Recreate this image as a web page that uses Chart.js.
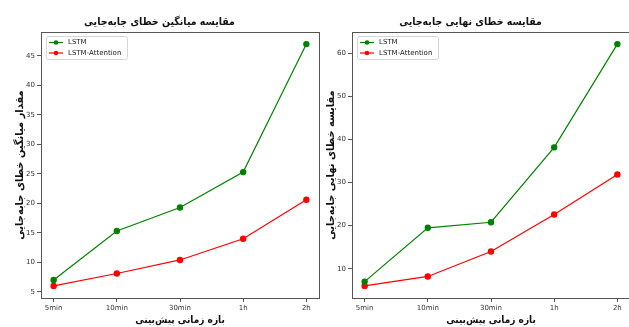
<!DOCTYPE html>
<html>
<head>
<meta charset="utf-8">
<script src="https://cdn.jsdelivr.net/npm/chart.js@4.4.1/dist/chart.umd.min.js"></script>
<style>
  html, body { margin: 0; padding: 0; background: #fff; overflow: hidden; width: 629px; height: 327px; }
  .panel { position: absolute; top: 0; width: 330px; height: 345px; }
  #leftPanel { left: 0; }
  #rightPanel { left: 311px; }
</style>
</head>
<body>
<div class="panel" id="leftPanel"><canvas id="meanChart"></canvas></div>
<div class="panel" id="rightPanel"><canvas id="finalChart"></canvas></div>
<script>
// Forecast horizons on the x axis
const horizons = ['5min', '10min', '30min', '1h', '2h'];

// Mean displacement error
const meanLstm = [7.0, 15.3, 19.3, 25.3, 47.0];
const meanLstmAttention = [6.0, 8.1, 10.4, 14.0, 20.6];
const meanTicks = [5, 10, 15, 20, 25, 30, 35, 40, 45];

// Final displacement error
const finalLstm = [7.0, 19.5, 20.8, 38.2, 62.2];
const finalLstmAttention = [6.0, 8.2, 14.0, 22.6, 31.9];
const finalTicks = [10, 20, 30, 40, 50, 60];

const seriesNames = ['LSTM', 'LSTM-Attention'];
const seriesColors = ['#008000', '#ff0000'];

const persianFont = "'DejaVu Sans Condensed', 'DejaVu Sans', sans-serif";
const tickFont = { family: "'DejaVu Sans', sans-serif", size: 7 };
const axisColor = '#555';

// Axis limits padded by 5% of the data span on each side
function paddedRange(values) {
  const lo = Math.min(...values), hi = Math.max(...values);
  const m = (hi - lo) * 0.05;
  return [lo - m, hi + m];
}

function points(values) {
  return values.map((v, i) => ({ x: i, y: v }));
}

// Frame around the plotting area
const frame = {
  id: 'frame',
  afterDatasetsDraw(chart) {
    const a = chart.chartArea, ctx = chart.ctx;
    ctx.save();
    ctx.strokeStyle = axisColor;
    ctx.lineWidth = 1;
    ctx.strokeRect(Math.round(a.left) + 0.5, Math.round(a.top) + 0.5,
                   Math.round(a.right - a.left), Math.round(a.bottom - a.top));
    ctx.restore();
  }
};

// Legend box in the upper-left corner of the plotting area
const cornerLegend = {
  id: 'cornerLegend',
  afterDraw(chart) {
    const a = chart.chartArea, ctx = chart.ctx;
    const x0 = a.left + 5, y0 = a.top + 4, w = 81, h = 23;
    ctx.save();
    ctx.fillStyle = 'rgba(255,255,255,0.8)';
    ctx.strokeStyle = '#d6d6d6';
    ctx.lineWidth = 1;
    ctx.beginPath();
    ctx.roundRect(x0 + 0.5, y0 + 0.5, w, h, 2);
    ctx.fill();
    ctx.stroke();
    ctx.font = "7px 'DejaVu Sans', sans-serif";
    ctx.textBaseline = 'middle';
    chart.data.datasets.forEach((ds, i) => {
      const cy = y0 + 6.5 + i * 10.5;
      ctx.strokeStyle = ds.borderColor;
      ctx.lineWidth = 1.2;
      ctx.beginPath();
      ctx.moveTo(x0 + 3, cy);
      ctx.lineTo(x0 + 17, cy);
      ctx.stroke();
      ctx.fillStyle = ds.backgroundColor;
      ctx.beginPath();
      ctx.arc(x0 + 10, cy, 2.3, 0, Math.PI * 2);
      ctx.fill();
      ctx.fillStyle = '#222';
      ctx.fillText(ds.label, x0 + 22, cy);
    });
    ctx.restore();
  }
};

function makeChart(canvasId, title, yTitle, lstm, attention, yTicks) {
  const [yMin, yMax] = paddedRange(lstm.concat(attention));
  const datasets = [lstm, attention].map((vals, i) => ({
    label: seriesNames[i],
    data: points(vals),
    borderColor: seriesColors[i],
    backgroundColor: seriesColors[i],
    pointBackgroundColor: seriesColors[i],
    pointBorderColor: seriesColors[i],
    pointRadius: 2.6,
    borderWidth: 1.2,
    tension: 0
  }));
  return new Chart(document.getElementById(canvasId), {
    type: 'line',
    data: { datasets },
    plugins: [frame, cornerLegend],
    options: {
      responsive: true,
      maintainAspectRatio: false,
      animation: false,
      events: [],
      layout: { padding: { left: 0, right: 11, top: 0, bottom: 0 } },
      plugins: {
        legend: { display: false },
        tooltip: { enabled: false },
        title: {
          display: true,
          text: title,
          color: '#111',
          font: { family: persianFont, size: 10.5, weight: 'bold' },
          padding: { top: 15.7, bottom: 3.7 }
        }
      },
      scales: {
        x: {
          type: 'linear',
          min: -0.2,
          max: horizons.length - 1 + 0.2,
          afterBuildTicks(scale) {
            scale.ticks = horizons.map((_, i) => ({ value: i }));
          },
          afterFit(scale) { scale.height = 47; },
          ticks: {
            color: '#333',
            font: tickFont,
            padding: 2,
            maxRotation: 0,
            autoSkip: false,
            callback: (v) => horizons[v]
          },
          grid: { drawOnChartArea: false, drawTicks: true, tickLength: 4, color: axisColor },
          border: { display: false },
          title: {
            display: true,
            text: 'بازه زمانی پیش‌بینی',
            color: '#111',
            font: { family: persianFont, size: 10, weight: 'bold' },
            padding: { top: 0, bottom: 19 }
          }
        },
        y: {
          min: yMin,
          max: yMax,
          afterBuildTicks(scale) {
            scale.ticks = yTicks.map(v => ({ value: v }));
          },
          afterFit(scale) { scale.width = 41; },
          ticks: { color: '#333', font: tickFont, padding: 2 },
          grid: { drawOnChartArea: false, drawTicks: true, tickLength: 4, color: axisColor },
          border: { display: false },
          title: {
            display: true,
            text: yTitle,
            color: '#111',
            font: { family: persianFont, size: 11, weight: 'bold' },
            padding: { top: 13.5, bottom: 0 }
          }
        }
      }
    }
  });
}

makeChart('meanChart', 'مقایسه میانگین خطای جابه‌جایی', 'مقدار میانگین خطای جابه‌جایی',
          meanLstm, meanLstmAttention, meanTicks);
makeChart('finalChart', 'مقایسه خطای نهایی جابه‌جایی', 'مقایسه خطای نهایی جابه‌جایی',
          finalLstm, finalLstmAttention, finalTicks);
</script>
</body>
</html>
